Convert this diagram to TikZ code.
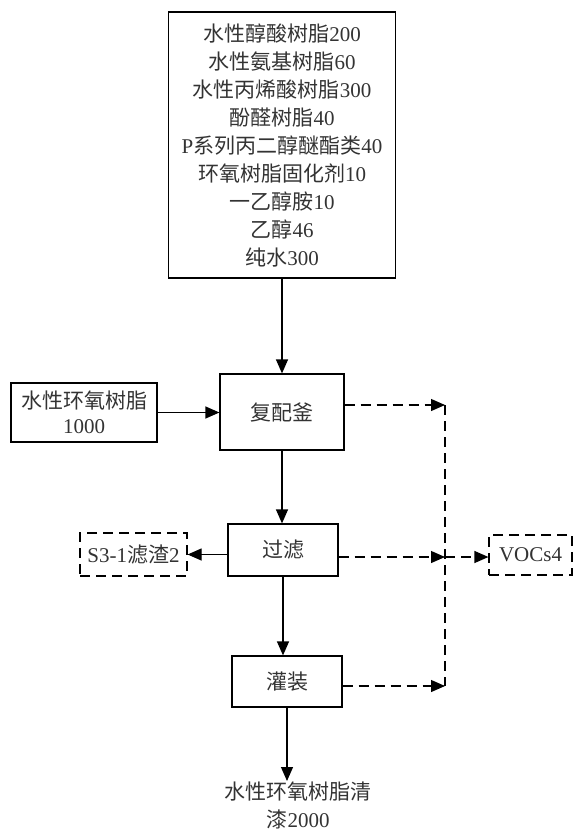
\documentclass[tikz,border=0pt]{standalone}
\usepackage{fontspec}
\setmainfont{Liberation Serif}
\newfontfamily\zhfont{Noto Sans CJK SC}
\newcommand{\zh}[1]{{\zhfont #1}}
\usetikzlibrary{arrows.meta}

\begin{document}
\begin{tikzpicture}[x=1pt, y=-1pt,
        font=\fontsize{21pt}{28pt}\selectfont, text=black!80,
        box/.style={draw, line width=1.2pt, align=center, inner sep=0pt},
        waste/.style={box, dashed, dash pattern=on 10pt off 6pt},
        arr/.style={line width=1.2pt, -{Triangle[length=14pt,width=12pt]}},
        gasline/.style={line width=1.2pt, dash pattern=on 10pt off 6pt},
        gas/.style={arr, gasline}]
        \useasboundingbox (0,0) rectangle (575,834);

        % raw materials
        \node[box, minimum width=227pt, minimum height=266pt] (raw) at (282,145)
            {\zh{水性醇酸树脂}200\\ \zh{水性氨基树脂}60\\ \zh{水性丙烯酸树脂}300\\
             \zh{酚醛树脂}40\\ P\zh{系列丙二醇醚酯类}40\\ \zh{环氧树脂固化剂}10\\
             \zh{一乙醇胺}10\\ \zh{乙醇}46\\ \zh{纯水}300};
        \node[box, minimum width=146pt, minimum height=59pt,
              font=\fontsize{21pt}{25pt}\selectfont] (epoxy) at (84,412.5)
            {\zh{水性环氧树脂}\\1000};

        % process steps
        \node[box, minimum width=124pt, minimum height=76pt] (mix) at (282,412) {\zh{复配釜}};
        \node[box, minimum width=110pt, minimum height=52pt] (filt) at (283,550) {\zh{过滤}};
        \node[box, minimum width=110pt, minimum height=51pt] (fill) at (287,681.5) {\zh{灌装}};

        % outputs
        \node[waste, minimum width=107pt, minimum height=43pt] (slag) at (133.5,554.5) {S3-1\zh{滤渣}2};
        \node[waste, minimum width=83pt, minimum height=40pt] (vocs) at (530.5,555) {VOCs4};
        \node[align=center, inner sep=1pt, anchor=north] (prod) at (298,781)
            {\zh{水性环氧树脂清}\\ \zh{漆}2000};

        \coordinate (j1) at (445,405);
        \coordinate (j2) at (445,557);
        \coordinate (j3) at (445,686);

        \draw[arr] (raw.south) -- (mix.north);
        \draw[arr] (epoxy.east) -- (epoxy.east -| mix.west);
        \draw[arr] (mix.south) -- (mix.south |- filt.north);
        \draw[arr] (filt.west |- slag.east) -- (slag.east);
        \draw[arr] (filt.south) -- (filt.south |- fill.north);
        \draw[arr] (fill.south) -- (fill.south |- prod.north);

        \draw[gas] (mix.east |- j1) -- (j1);
        \draw[gas] (filt.east |- j2) -- (j2);
        \draw[gas] (fill.east |- j3) -- (j3);
        \draw[gasline] (j1) -- (j3);
        \draw[gas] (j2) -- (j2 -| vocs.west);
\end{tikzpicture}
\end{document}
